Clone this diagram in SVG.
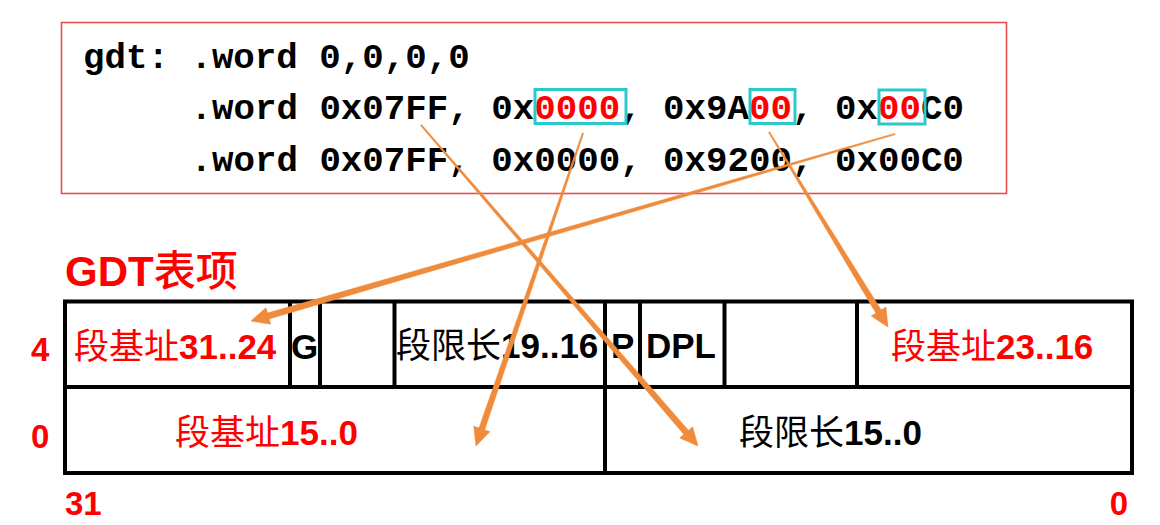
<svg xmlns="http://www.w3.org/2000/svg" width="1160" height="525" viewBox="0 0 1160 525">
<style>
.code{font-family:"Liberation Mono","Courier New",monospace;font-weight:bold;font-size:35.8px;fill:#000}
.hl{fill:#ff0000}
.cyan{fill:none;stroke:#2cc9cc;stroke-width:3}
.cell{fill:none;stroke:#000;stroke-width:4}
.lbl{font-family:"Liberation Sans",Arial,"Noto Sans CJK SC",sans-serif;font-weight:bold;font-size:35px}
.cjk{font-family:"Noto Sans CJK SC",sans-serif;font-weight:normal}
.red{fill:#ff0000}
.blk{fill:#000}
.arrow{fill:#ef8b3b;stroke:#ef8b3b;stroke-width:0.6;stroke-linejoin:round}
</style>
<rect width="1160" height="525" fill="#fff"/>

<g id="code-box">
  <rect x="61.5" y="22.5" width="945" height="171" fill="none" stroke="#e8504f" stroke-width="1.6"/>
  <text class="code" x="83" y="67.5">gdt: .word 0,0,0,0</text>
  <text class="code" x="190.5" y="119">.word 0x07FF, 0x<tspan class="hl">0000</tspan>, 0x9A<tspan class="hl">00</tspan>, 0x<tspan class="hl">00</tspan>C0</text>
  <text class="code" x="190.5" y="170.5">.word 0x07FF, 0x0000, 0x9200, 0x00C0</text>
  <rect class="cyan" x="535" y="89.5" width="91" height="34"/>
  <rect class="cyan" x="750" y="89.5" width="45" height="34"/>
  <rect class="cyan" x="879" y="90" width="46" height="34"/>
</g>

<g id="title">
  <text class="lbl red" x="65" y="286" style="font-size:42px">GDT<tspan class="cjk" style="font-weight:500">表项</tspan></text>
</g>

<g id="row-labels">
  <text class="lbl red" x="31" y="361" style="font-size:33px">4</text>
  <text class="lbl red" x="31" y="448" style="font-size:33px">0</text>
  <text class="lbl red" x="65" y="515" style="font-size:33px">31</text>
  <text class="lbl red" x="1128" y="515" text-anchor="end" style="font-size:33px">0</text>
</g>

<g id="table">
  <rect class="cell" x="65" y="301.5" width="1067" height="171.5"/>
  <line class="cell" x1="65" y1="387" x2="1132" y2="387"/>
  <line class="cell" x1="290" y1="301.5" x2="290" y2="387"/>
  <line class="cell" x1="320" y1="301.5" x2="320" y2="387"/>
  <line class="cell" x1="394.5" y1="301.5" x2="394.5" y2="387"/>
  <line class="cell" x1="605" y1="301.5" x2="605" y2="473"/>
  <line class="cell" x1="640" y1="301.5" x2="640" y2="387"/>
  <line class="cell" x1="724.5" y1="301.5" x2="724.5" y2="387"/>
  <line class="cell" x1="857" y1="301.5" x2="857" y2="387"/>
</g>

<g id="cell-base-31-24"><text class="lbl red" x="74" y="359"><tspan class="cjk">段基址</tspan>31..24</text></g>
<g id="cell-G"><text class="lbl blk" x="291" y="359">G</text></g>
<g id="cell-limit-19-16"><text class="lbl blk" x="396" y="358"><tspan class="cjk">段限长</tspan>19..16</text></g>
<g id="cell-P"><text class="lbl blk" x="611" y="358">P</text></g>
<g id="cell-DPL"><text class="lbl blk" x="646" y="358">DPL</text></g>
<g id="cell-base-23-16"><text class="lbl red" x="891" y="359"><tspan class="cjk">段基址</tspan>23..16</text></g>
<g id="cell-base-15-0"><text class="lbl red" x="175" y="445"><tspan class="cjk">段基址</tspan>15..0</text></g>
<g id="cell-limit-15-0"><text class="lbl blk" x="739" y="445"><tspan class="cjk">段限长</tspan>15..0</text></g>

<g id="connectors">
  <polygon class="arrow" points="894.8,133.4 267.5,313.1 265.9,307.8 251,321 270.7,324.2 269.1,318.9 895.2,134.6"/>
  <polygon class="arrow" points="582.4,132.8 479.0,428.0 473.8,426.2 476,446 489.8,431.7 484.6,430.0 583.6,133.2"/>
  <polygon class="arrow" points="420.5,125.4 683.9,434.4 679.8,437.9 698,446 692.6,426.8 688.5,430.4 421.5,124.6"/>
  <polygon class="arrow" points="768.5,132.3 876.0,313.2 871.3,316.0 888,327 885.9,307.2 881.2,310.0 769.5,131.7"/>
</g>
</svg>
